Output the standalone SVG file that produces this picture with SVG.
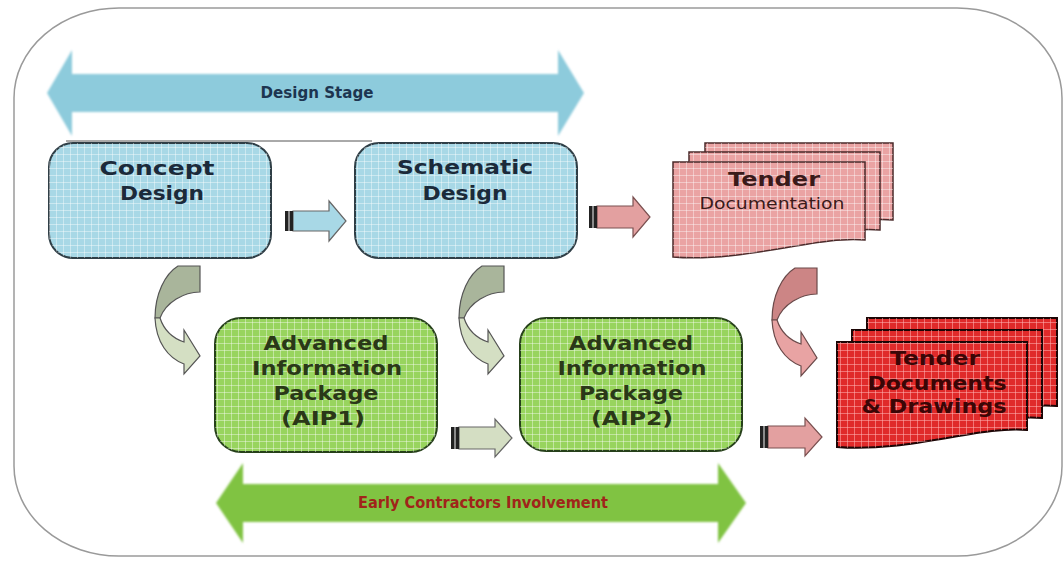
<svg xmlns="http://www.w3.org/2000/svg" width="1064" height="562" viewBox="0 0 1064 562">
<style>
.t{font-family:"DejaVu Sans","Liberation Sans",sans-serif;font-weight:bold;text-anchor:middle}
.bl{fill:#1b2a3a;font-size:19px}
.gr{fill:#2a3818;font-size:19px}
.pk{fill:#3a1a1a}
.rd{fill:#3a0606;font-size:19px}
.boxB{fill:#a8d8e6;stroke:#2f3e46;stroke-width:2}
.boxG{fill:#98d45e;stroke:#26401a;stroke-width:2}
.docP{fill:#eaa3a3;stroke:#4a2a2a;stroke-width:1.5}
.docR{fill:#e02a2a;stroke:#1c0505;stroke-width:2}
.tail{fill:#222}
.tailm{fill:#8a8a8a}
</style>
<defs>
<pattern id="grid" width="7" height="7" patternUnits="userSpaceOnUse">
<path d="M0 0.5H7M0.5 0V7" stroke="#ffffff" stroke-opacity="0.4" stroke-width="1" fill="none"/>
</pattern>
<pattern id="gridR" width="7" height="7" patternUnits="userSpaceOnUse">
<path d="M0 0.5H7M0.5 0V7" stroke="#ffb0b0" stroke-opacity="0.55" stroke-width="1" fill="none"/>
</pattern>
<filter id="soft" x="-5%" y="-20%" width="110%" height="140%"><feGaussianBlur stdDeviation="0.9"/></filter>
</defs>
<rect width="1064" height="562" fill="#ffffff"/>
<rect x="14" y="8" width="1048" height="548" rx="105" ry="90" fill="#ffffff" stroke="#9a9a9a" stroke-width="1.5"/>

<g id="design-stage">
<polygon points="47,93 72,50 72,74 558,74 558,50 584,93 558,136 558,112 72,112 72,136" fill="#8dcbdc" filter="url(#soft)"/>
<text class="t" x="317" y="98" font-size="15" fill="#1d3550" textLength="113" lengthAdjust="spacingAndGlyphs">Design Stage</text>
</g>
<line x1="66" y1="141" x2="372" y2="141" stroke="#555" stroke-width="1"/>

<g id="early-contractors">
<polygon points="216,503 243,463 243,484 718,484 718,463 746,503 718,543 718,522 243,522 243,543" fill="#80c343" filter="url(#soft)"/>
<text class="t" x="483" y="508" font-size="15" fill="#a0241a" textLength="250" lengthAdjust="spacingAndGlyphs">Early Contractors Involvement</text>
</g>

<g id="concept-design">
<rect class="boxB" x="49" y="143" width="222" height="115" rx="24"/>
<rect x="49" y="143" width="222" height="115" rx="24" fill="url(#grid)"/>
<text class="t bl" x="157" y="175" textLength="115" lengthAdjust="spacingAndGlyphs">Concept</text>
<text class="t bl" x="162" y="200" textLength="84" lengthAdjust="spacingAndGlyphs">Design</text>
</g>

<g id="schematic-design">
<rect class="boxB" x="355" y="143" width="222" height="115" rx="24"/>
<rect x="355" y="143" width="222" height="115" rx="24" fill="url(#grid)"/>
<text class="t bl" x="465" y="174" textLength="136" lengthAdjust="spacingAndGlyphs">Schematic</text>
<text class="t bl" x="465" y="200" textLength="85" lengthAdjust="spacingAndGlyphs">Design</text>
</g>

<g id="tender-documentation">
<path class="docP" d="M705 143H893V220C848 215 775 243 705 237Z"/>
<path d="M705 143H893V220C848 215 775 243 705 237Z" fill="url(#grid)"/>
<path class="docP" d="M689 152H880V230C835 225 759 253 689 247Z"/>
<path d="M689 152H880V230C835 225 759 253 689 247Z" fill="url(#grid)"/>
<path class="docP" d="M673 162H865V240C820 235 743 263 673 257Z"/>
<path d="M673 162H865V240C820 235 743 263 673 257Z" fill="url(#grid)"/>
<text class="t pk" x="774" y="186" font-size="19" textLength="92" lengthAdjust="spacingAndGlyphs">Tender</text>
<text class="t pk" x="772" y="209" font-size="15" font-weight="normal" style="font-weight:normal" textLength="145" lengthAdjust="spacingAndGlyphs">Documentation</text>
</g>

<g id="aip1">
<rect class="boxG" x="215" y="318" width="222" height="134" rx="26"/>
<rect x="215" y="318" width="222" height="134" rx="26" fill="url(#grid)"/>
<text class="t gr" x="326" y="350" textLength="125" lengthAdjust="spacingAndGlyphs">Advanced</text>
<text class="t gr" x="327" y="375" textLength="150" lengthAdjust="spacingAndGlyphs">Information</text>
<text class="t gr" x="326" y="400" textLength="105" lengthAdjust="spacingAndGlyphs">Package</text>
<text class="t gr" x="323" y="425" textLength="84" lengthAdjust="spacingAndGlyphs">(AIP1)</text>
</g>

<g id="aip2">
<rect class="boxG" x="520" y="318" width="222" height="133" rx="26"/>
<rect x="520" y="318" width="222" height="133" rx="26" fill="url(#grid)"/>
<text class="t gr" x="631" y="350" textLength="124" lengthAdjust="spacingAndGlyphs">Advanced</text>
<text class="t gr" x="632" y="375" textLength="149" lengthAdjust="spacingAndGlyphs">Information</text>
<text class="t gr" x="631" y="400" textLength="104" lengthAdjust="spacingAndGlyphs">Package</text>
<text class="t gr" x="632" y="425" textLength="82" lengthAdjust="spacingAndGlyphs">(AIP2)</text>
</g>

<g id="tender-documents-drawings">
<path class="docR" d="M867 318H1057V406C1012 401 937 429 867 423Z"/>
<path d="M867 318H1057V406C1012 401 937 429 867 423Z" fill="url(#gridR)"/>
<path class="docR" d="M852 330H1042V418C997 413 922 441 852 435Z"/>
<path d="M852 330H1042V418C997 413 922 441 852 435Z" fill="url(#gridR)"/>
<path class="docR" d="M837 342H1027V430C982 425 907 453 837 447Z"/>
<path d="M837 342H1027V430C982 425 907 453 837 447Z" fill="url(#gridR)"/>
<text class="t rd" x="935" y="365" textLength="90" lengthAdjust="spacingAndGlyphs">Tender</text>
<text class="t rd" x="937" y="390" textLength="139" lengthAdjust="spacingAndGlyphs">Documents</text>
<text class="t rd" x="934" y="413" textLength="145" lengthAdjust="spacingAndGlyphs">&amp; Drawings</text>
</g>

<g id="connectors">
<!-- Concept -> Schematic -->
<g transform="translate(285,221)">
<path d="M8,-10H44V-20L61,0L44,20V10H8Z" fill="#a8d8e6" stroke="#666" stroke-width="1.2"/>
<rect class="tail" x="0" y="-10" width="3" height="20"/><rect class="tailm" x="3" y="-10" width="2" height="20"/><rect class="tail" x="5" y="-10" width="3" height="20"/>
</g>
<!-- Schematic -> Tender Documentation -->
<g transform="translate(589,217)">
<path d="M8,-11H44V-20L61,0L44,20V11H8Z" fill="#e3a0a0" stroke="#7a5050" stroke-width="1.2"/>
<rect class="tail" x="0" y="-11" width="3" height="22"/><rect class="tailm" x="3" y="-11" width="2" height="22"/><rect class="tail" x="5" y="-11" width="3" height="22"/>
</g>
<!-- AIP1 -> AIP2 -->
<g transform="translate(451,438)">
<path d="M8,-11H44V-19L61,0L44,19V11H8Z" fill="#d4dec3" stroke="#666" stroke-width="1.2"/>
<rect class="tail" x="0" y="-11" width="3" height="22"/><rect class="tailm" x="3" y="-11" width="2" height="22"/><rect class="tail" x="5" y="-11" width="3" height="22"/>
</g>
<!-- AIP2 -> Tender Documents -->
<g transform="translate(760,437)">
<path d="M8,-11H45V-19L62,0L45,19V11H8Z" fill="#e3a0a0" stroke="#7a5050" stroke-width="1.2"/>
<rect class="tail" x="0" y="-11" width="3" height="22"/><rect class="tailm" x="3" y="-11" width="2" height="22"/><rect class="tail" x="5" y="-11" width="3" height="22"/>
</g>
<!-- Concept -> AIP1 curved -->
<g>
<path d="M178 266L200 266L200 292C184 292 166 302 160 318L155 318C155 294 165 274 178 266Z" fill="#a9b59b" stroke="#555" stroke-width="1.2"/>
<path d="M155 318L160 318C164 330 172 338 184 342L184 330L200 356L184 374L184 364C168 358 156 342 155 318Z" fill="#d4dfc3" stroke="#555" stroke-width="1.2"/>
</g>
<!-- Schematic -> AIP2 curved -->
<g transform="translate(304,0)">
<path d="M178 266L200 266L200 292C184 292 166 302 160 318L155 318C155 294 165 274 178 266Z" fill="#a9b59b" stroke="#555" stroke-width="1.2"/>
<path d="M155 318L160 318C164 330 172 338 184 342L184 330L200 356L184 374L184 364C168 358 156 342 155 318Z" fill="#d4dfc3" stroke="#555" stroke-width="1.2"/>
</g>
<!-- Tender Documentation -> Tender Documents curved -->
<g transform="translate(617,2)">
<path d="M178 266L200 266L200 292C184 292 166 302 160 318L155 318C155 294 165 274 178 266Z" fill="#cc8585" stroke="#6a4a4a" stroke-width="1.2"/>
<path d="M155 318L160 318C164 330 172 338 184 342L184 330L200 356L184 374L184 364C168 358 156 342 155 318Z" fill="#e8a3a3" stroke="#6a4a4a" stroke-width="1.2"/>
</g>
</g>
</svg>
